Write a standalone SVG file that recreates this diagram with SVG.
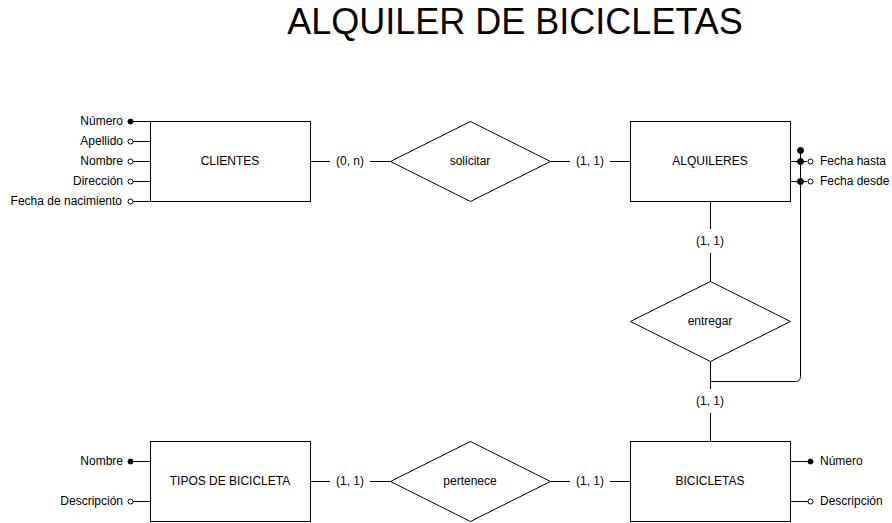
<svg xmlns="http://www.w3.org/2000/svg" width="892" height="523" viewBox="0 0 892 523">
<style>
.shape{fill:#fff;stroke:#000;stroke-width:1}
.ln{fill:none;stroke:#000;stroke-width:1}
.t{font-family:"Liberation Sans",Arial,sans-serif;font-size:12px;fill:#000}
.c{text-anchor:middle;dominant-baseline:central}
.r{text-anchor:end;dominant-baseline:central}
.l{text-anchor:start;dominant-baseline:central}
.key{fill:#000;stroke:#000;stroke-width:1}
.att{fill:#fff;stroke:#000;stroke-width:1}
</style>
<rect width="892" height="523" fill="#fff"/>
<text x="515" y="34" style="font-family:'Liberation Sans',Arial,sans-serif;font-size:36px;text-anchor:middle;fill:#000">ALQUILER DE BICICLETAS</text>

<g id="connectors">
<path class="ln" d="M310.5 161.5H330M370 161.5H390.5"/>
<path class="ln" d="M550.5 161.5H570M610 161.5H630.5"/>
<path class="ln" d="M310.5 481.5H330M370 481.5H390.5"/>
<path class="ln" d="M550.5 481.5H570M610 481.5H630.5"/>
<path class="ln" d="M710.5 201.5V229M710.5 253V281.5"/>
<path class="ln" d="M710.5 361.5V389M710.5 413V441.5"/>
<path class="ln" d="M710.5 381.5H795.5Q800.5 381.5 800.5 376.5V150.5"/>
<path class="ln" d="M790.5 161.5H807M790.5 181.5H807"/>
<text class="t c" x="350" y="161">(0, n)</text>
<text class="t c" x="590" y="161">(1, 1)</text>
<text class="t c" x="350" y="481">(1, 1)</text>
<text class="t c" x="590" y="481">(1, 1)</text>
<text class="t c" x="710" y="241">(1, 1)</text>
<text class="t c" x="710" y="401">(1, 1)</text>
</g>

<g id="clientes">
<rect class="shape" x="150.5" y="121.5" width="160" height="80"/>
<text class="t c" x="230" y="161">CLIENTES</text>
</g>
<g id="clientes-attrs">
<path class="ln" d="M133 121.5H150.5M133 141.5H150.5M133 161.5H150.5M133 181.5H150.5M133 201.5H150.5"/>
<circle class="key" cx="130.5" cy="121.5" r="2.5"/>
<circle class="att" cx="130.5" cy="141.5" r="2.5"/>
<circle class="att" cx="130.5" cy="161.5" r="2.5"/>
<circle class="att" cx="130.5" cy="181.5" r="2.5"/>
<circle class="att" cx="130.5" cy="201.5" r="2.5"/>
<text class="t r" x="123" y="121">Número</text>
<text class="t r" x="123" y="141">Apellido</text>
<text class="t r" x="123" y="161">Nombre</text>
<text class="t r" x="123" y="181">Dirección </text>
<text class="t r" x="122" y="201">Fecha de nacimiento</text>
</g>

<g id="solicitar">
<polygon class="shape" points="470.5,121.5 550.5,161.5 470.5,201.5 390.5,161.5"/>
<text class="t c" x="470" y="161">solicitar</text>
</g>

<g id="alquileres">
<rect class="shape" x="630.5" y="121.5" width="160" height="80"/>
<text class="t c" x="710" y="161">ALQUILERES</text>
</g>
<g id="alquileres-attrs">
<circle class="key" cx="800.5" cy="150.5" r="3"/>
<circle class="key" cx="800.5" cy="161.5" r="3"/>
<circle class="key" cx="800.5" cy="181.5" r="3"/>
<circle class="att" cx="810.5" cy="161.5" r="2.5"/>
<circle class="att" cx="810.5" cy="181.5" r="2.5"/>
<text class="t l" x="820" y="161">Fecha hasta</text>
<text class="t l" x="820" y="181">Fecha desde</text>
</g>

<g id="entregar">
<polygon class="shape" points="710.5,281.5 790.5,321.5 710.5,361.5 630.5,321.5"/>
<text class="t c" x="710" y="321">entregar</text>
</g>

<g id="bicicletas">
<rect class="shape" x="630.5" y="441.5" width="160" height="80"/>
<text class="t c" x="710" y="481">BICICLETAS</text>
</g>
<g id="bicicletas-attrs">
<path class="ln" d="M790.5 461.5H808M790.5 501.5H808"/>
<circle class="key" cx="810.5" cy="461.5" r="2.5"/>
<circle class="att" cx="810.5" cy="501.5" r="2.5"/>
<text class="t l" x="820" y="461">Número</text>
<text class="t l" x="820" y="501">Descripción</text>
</g>

<g id="pertenece">
<polygon class="shape" points="470.5,441.5 550.5,481.5 470.5,521.5 390.5,481.5"/>
<text class="t c" x="470" y="481">pertenece</text>
</g>

<g id="tipos">
<rect class="shape" x="150.5" y="441.5" width="160" height="80"/>
<text class="t c" x="230" y="481">TIPOS DE BICICLETA</text>
</g>
<g id="tipos-attrs">
<path class="ln" d="M133 461.5H150.5M133 501.5H150.5"/>
<circle class="key" cx="130.5" cy="461.5" r="2.5"/>
<circle class="att" cx="130.5" cy="501.5" r="2.5"/>
<text class="t r" x="123" y="461">Nombre</text>
<text class="t r" x="123" y="501">Descripción</text>
</g>
</svg>
